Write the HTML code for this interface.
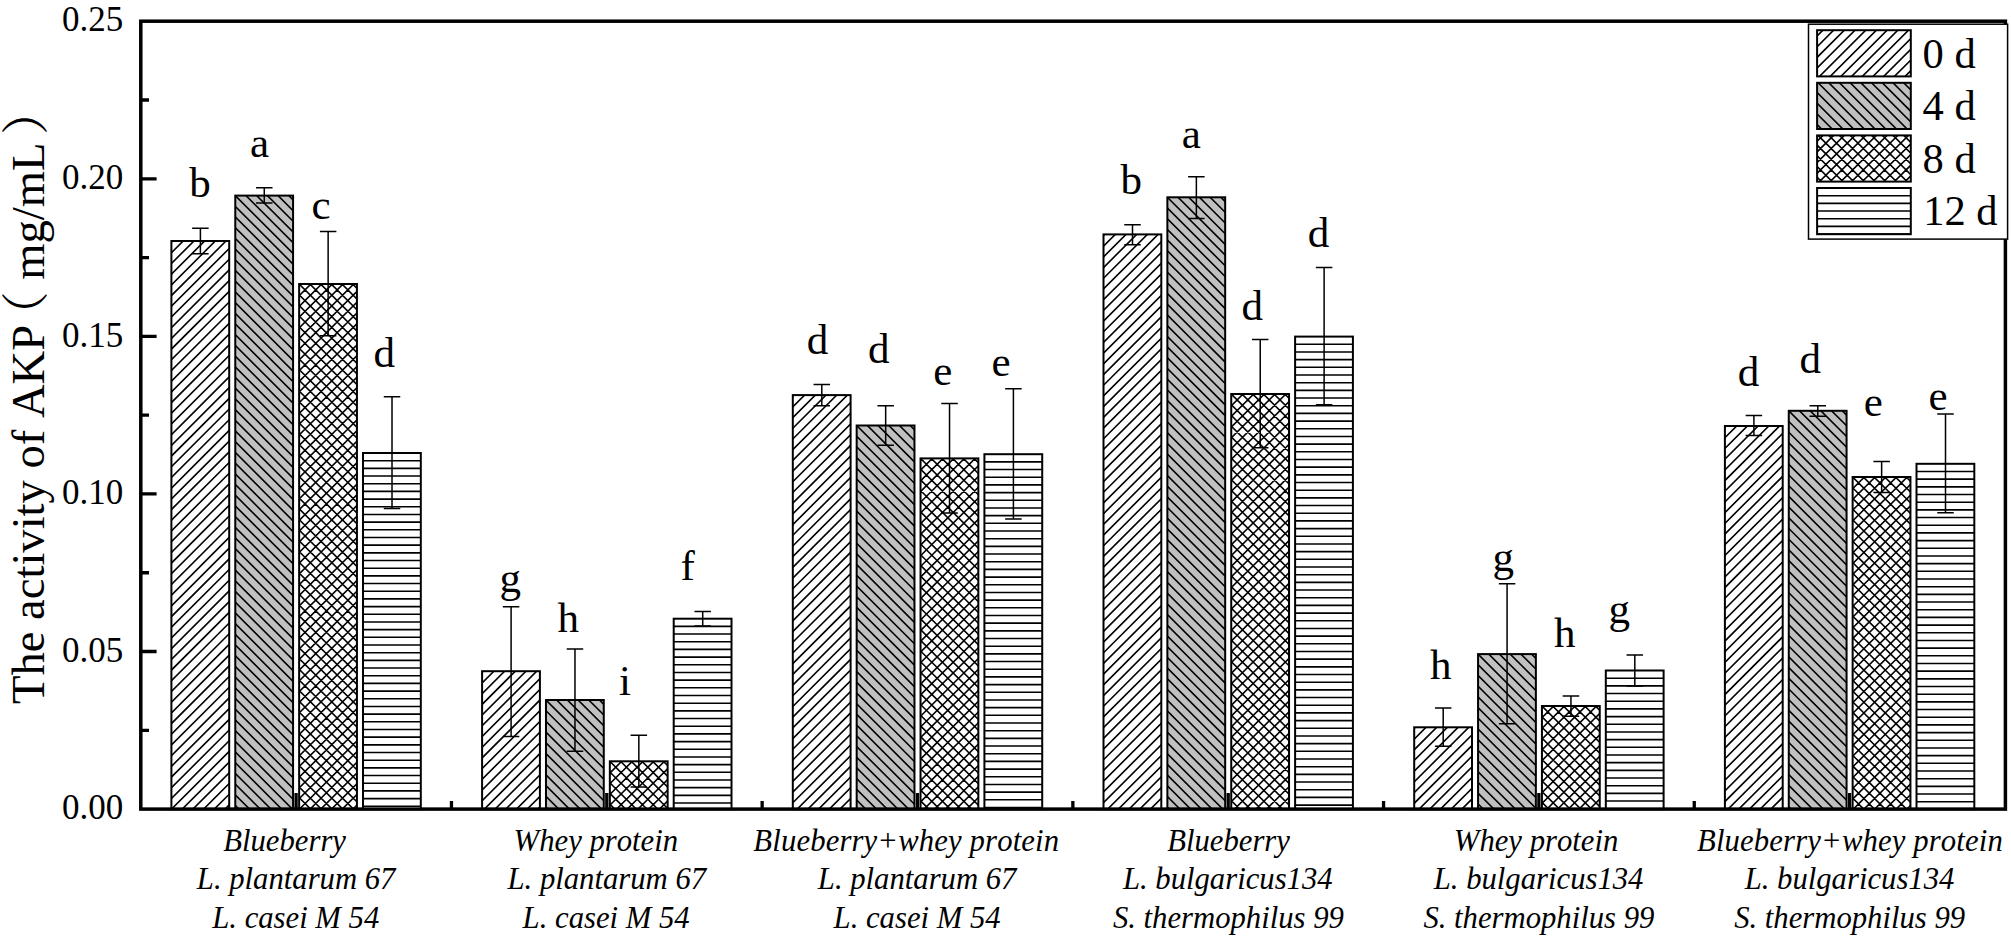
<!DOCTYPE html>
<html lang="en"><head><meta charset="utf-8"><title>The activity of AKP</title>
<style>html,body{margin:0;padding:0;background:#fff}body{width:2011px;height:937px;overflow:hidden}svg{display:block}
text{font-family:"Liberation Serif","Noto Serif CJK SC",serif;fill:#000;font-kerning:none}
.xl{font-style:italic;font-size:30.7px}.lt{font-size:43px;text-anchor:middle}.tk{font-size:35px;text-anchor:end}.lg{font-size:42.5px}.yt{font-size:46.6px}
.h{stroke:#000;stroke-width:1.6;fill:none}.b{stroke:#000;stroke-width:2.0;fill:none}.e{stroke:#000;stroke-width:1.5;fill:none}.t{stroke:#000;stroke-width:3.3;fill:none}
</style></head><body>
<svg width="2011" height="937" viewBox="0 0 2011 937">
<rect width="2011" height="937" fill="#fff"/>
<path class="t" d="M140.8 730.31h8.2M140.8 651.52h15.8M140.8 572.73h8.2M140.8 493.94h15.8M140.8 415.15h8.2M140.8 336.36h15.8M140.8 257.57h8.2M140.8 178.78h15.8M140.8 99.99h8.2M296.1 809.1v-16M451.45 809.1v-8M606.8 809.1v-16M762.15 809.1v-8M917.5 809.1v-16M1072.85 809.1v-8M1228.2 809.1v-16M1383.55 809.1v-8M1538.9 809.1v-16M1694.25 809.1v-8M1849.6 809.1v-16"/>
<defs><clipPath id="c1"><rect x="171.4" y="241" width="57.8" height="568.1"/></clipPath><clipPath id="c2"><rect x="235.27" y="195.6" width="57.8" height="613.5"/></clipPath><clipPath id="c3"><rect x="299.14" y="284" width="57.8" height="525.1"/></clipPath><clipPath id="c4"><rect x="363.01" y="453" width="57.8" height="356.1"/></clipPath><clipPath id="c5"><rect x="482.1" y="671.2" width="57.8" height="137.9"/></clipPath><clipPath id="c6"><rect x="545.97" y="700" width="57.8" height="109.1"/></clipPath><clipPath id="c7"><rect x="609.84" y="761.3" width="57.8" height="47.8"/></clipPath><clipPath id="c8"><rect x="673.71" y="618.7" width="57.8" height="190.4"/></clipPath><clipPath id="c9"><rect x="792.8" y="395.1" width="57.8" height="414"/></clipPath><clipPath id="c10"><rect x="856.67" y="425.5" width="57.8" height="383.6"/></clipPath><clipPath id="c11"><rect x="920.54" y="458.4" width="57.8" height="350.7"/></clipPath><clipPath id="c12"><rect x="984.41" y="454.2" width="57.8" height="354.9"/></clipPath><clipPath id="c13"><rect x="1103.5" y="234.4" width="57.8" height="574.7"/></clipPath><clipPath id="c14"><rect x="1167.37" y="197.3" width="57.8" height="611.8"/></clipPath><clipPath id="c15"><rect x="1231.24" y="394" width="57.8" height="415.1"/></clipPath><clipPath id="c16"><rect x="1295.11" y="336.6" width="57.8" height="472.5"/></clipPath><clipPath id="c17"><rect x="1414.2" y="727.3" width="57.8" height="81.8"/></clipPath><clipPath id="c18"><rect x="1478.07" y="654.1" width="57.8" height="155"/></clipPath><clipPath id="c19"><rect x="1541.94" y="706" width="57.8" height="103.1"/></clipPath><clipPath id="c20"><rect x="1605.81" y="670.5" width="57.8" height="138.6"/></clipPath><clipPath id="c21"><rect x="1724.9" y="426" width="57.8" height="383.1"/></clipPath><clipPath id="c22"><rect x="1788.77" y="410.8" width="57.8" height="398.3"/></clipPath><clipPath id="c23"><rect x="1852.64" y="477" width="57.8" height="332.1"/></clipPath><clipPath id="c24"><rect x="1916.51" y="463.8" width="57.8" height="345.3"/></clipPath><clipPath id="l0"><rect x="1817.1" y="30.2" width="93.7" height="46.2"/></clipPath><clipPath id="l1"><rect x="1817.1" y="82.8" width="93.7" height="46.2"/></clipPath><clipPath id="l2"><rect x="1817.1" y="135.4" width="93.7" height="46.2"/></clipPath><clipPath id="l3"><rect x="1817.1" y="188" width="93.7" height="46.2"/></clipPath></defs>
<rect x="171.4" y="241" width="57.8" height="568.1" fill="#fff"/>
<path class="h" clip-path="url(#c1)" d="M170.4 243.1L230.2 183.3M170.4 253.8L230.2 194M170.4 264.5L230.2 204.7M170.4 275.2L230.2 215.4M170.4 285.9L230.2 226.1M170.4 296.6L230.2 236.8M170.4 307.3L230.2 247.5M170.4 318L230.2 258.2M170.4 328.7L230.2 268.9M170.4 339.4L230.2 279.6M170.4 350.1L230.2 290.3M170.4 360.8L230.2 301M170.4 371.5L230.2 311.7M170.4 382.2L230.2 322.4M170.4 392.9L230.2 333.1M170.4 403.6L230.2 343.8M170.4 414.3L230.2 354.5M170.4 425L230.2 365.2M170.4 435.7L230.2 375.9M170.4 446.4L230.2 386.6M170.4 457.1L230.2 397.3M170.4 467.8L230.2 408M170.4 478.5L230.2 418.7M170.4 489.2L230.2 429.4M170.4 499.9L230.2 440.1M170.4 510.6L230.2 450.8M170.4 521.3L230.2 461.5M170.4 532L230.2 472.2M170.4 542.7L230.2 482.9M170.4 553.4L230.2 493.6M170.4 564.1L230.2 504.3M170.4 574.8L230.2 515M170.4 585.5L230.2 525.7M170.4 596.2L230.2 536.4M170.4 606.9L230.2 547.1M170.4 617.6L230.2 557.8M170.4 628.3L230.2 568.5M170.4 639L230.2 579.2M170.4 649.7L230.2 589.9M170.4 660.4L230.2 600.6M170.4 671.1L230.2 611.3M170.4 681.8L230.2 622M170.4 692.5L230.2 632.7M170.4 703.2L230.2 643.4M170.4 713.9L230.2 654.1M170.4 724.6L230.2 664.8M170.4 735.3L230.2 675.5M170.4 746L230.2 686.2M170.4 756.7L230.2 696.9M170.4 767.4L230.2 707.6M170.4 778.1L230.2 718.3M170.4 788.8L230.2 729M170.4 799.5L230.2 739.7M170.4 810.2L230.2 750.4M170.4 820.9L230.2 761.1M170.4 831.6L230.2 771.8M170.4 842.3L230.2 782.5M170.4 853L230.2 793.2M170.4 863.7L230.2 803.9"/>
<rect class="b" x="171.4" y="241" width="57.8" height="568.1"/>
<rect x="235.27" y="195.6" width="57.8" height="613.5" fill="#c0c0c0"/>
<path class="h" clip-path="url(#c2)" d="M234.27 804.5L294.07 864.3M234.27 793.8L294.07 853.6M234.27 783.1L294.07 842.9M234.27 772.4L294.07 832.2M234.27 761.7L294.07 821.5M234.27 751L294.07 810.8M234.27 740.3L294.07 800.1M234.27 729.6L294.07 789.4M234.27 718.9L294.07 778.7M234.27 708.2L294.07 768M234.27 697.5L294.07 757.3M234.27 686.8L294.07 746.6M234.27 676.1L294.07 735.9M234.27 665.4L294.07 725.2M234.27 654.7L294.07 714.5M234.27 644L294.07 703.8M234.27 633.3L294.07 693.1M234.27 622.6L294.07 682.4M234.27 611.9L294.07 671.7M234.27 601.2L294.07 661M234.27 590.5L294.07 650.3M234.27 579.8L294.07 639.6M234.27 569.1L294.07 628.9M234.27 558.4L294.07 618.2M234.27 547.7L294.07 607.5M234.27 537L294.07 596.8M234.27 526.3L294.07 586.1M234.27 515.6L294.07 575.4M234.27 504.9L294.07 564.7M234.27 494.2L294.07 554M234.27 483.5L294.07 543.3M234.27 472.8L294.07 532.6M234.27 462.1L294.07 521.9M234.27 451.4L294.07 511.2M234.27 440.7L294.07 500.5M234.27 430L294.07 489.8M234.27 419.3L294.07 479.1M234.27 408.6L294.07 468.4M234.27 397.9L294.07 457.7M234.27 387.2L294.07 447M234.27 376.5L294.07 436.3M234.27 365.8L294.07 425.6M234.27 355.1L294.07 414.9M234.27 344.4L294.07 404.2M234.27 333.7L294.07 393.5M234.27 323L294.07 382.8M234.27 312.3L294.07 372.1M234.27 301.6L294.07 361.4M234.27 290.9L294.07 350.7M234.27 280.2L294.07 340M234.27 269.5L294.07 329.3M234.27 258.8L294.07 318.6M234.27 248.1L294.07 307.9M234.27 237.4L294.07 297.2M234.27 226.7L294.07 286.5M234.27 216L294.07 275.8M234.27 205.3L294.07 265.1M234.27 194.6L294.07 254.4M234.27 183.9L294.07 243.7M234.27 173.2L294.07 233M234.27 162.5L294.07 222.3M234.27 151.8L294.07 211.6M234.27 141.1L294.07 200.9"/>
<rect class="b" x="235.27" y="195.6" width="57.8" height="613.5"/>
<rect x="299.14" y="284" width="57.8" height="525.1" fill="#fff"/>
<path class="h" clip-path="url(#c3)" d="M298.14 286.1L357.94 226.3M298.14 296.8L357.94 237M298.14 307.5L357.94 247.7M298.14 318.2L357.94 258.4M298.14 328.9L357.94 269.1M298.14 339.6L357.94 279.8M298.14 350.3L357.94 290.5M298.14 361L357.94 301.2M298.14 371.7L357.94 311.9M298.14 382.4L357.94 322.6M298.14 393.1L357.94 333.3M298.14 403.8L357.94 344M298.14 414.5L357.94 354.7M298.14 425.2L357.94 365.4M298.14 435.9L357.94 376.1M298.14 446.6L357.94 386.8M298.14 457.3L357.94 397.5M298.14 468L357.94 408.2M298.14 478.7L357.94 418.9M298.14 489.4L357.94 429.6M298.14 500.1L357.94 440.3M298.14 510.8L357.94 451M298.14 521.5L357.94 461.7M298.14 532.2L357.94 472.4M298.14 542.9L357.94 483.1M298.14 553.6L357.94 493.8M298.14 564.3L357.94 504.5M298.14 575L357.94 515.2M298.14 585.7L357.94 525.9M298.14 596.4L357.94 536.6M298.14 607.1L357.94 547.3M298.14 617.8L357.94 558M298.14 628.5L357.94 568.7M298.14 639.2L357.94 579.4M298.14 649.9L357.94 590.1M298.14 660.6L357.94 600.8M298.14 671.3L357.94 611.5M298.14 682L357.94 622.2M298.14 692.7L357.94 632.9M298.14 703.4L357.94 643.6M298.14 714.1L357.94 654.3M298.14 724.8L357.94 665M298.14 735.5L357.94 675.7M298.14 746.2L357.94 686.4M298.14 756.9L357.94 697.1M298.14 767.6L357.94 707.8M298.14 778.3L357.94 718.5M298.14 789L357.94 729.2M298.14 799.7L357.94 739.9M298.14 810.4L357.94 750.6M298.14 821.1L357.94 761.3M298.14 831.8L357.94 772M298.14 842.5L357.94 782.7M298.14 853.2L357.94 793.4M298.14 863.9L357.94 804.1M298.14 807.3L357.94 867.1M298.14 796.6L357.94 856.4M298.14 785.9L357.94 845.7M298.14 775.2L357.94 835M298.14 764.5L357.94 824.3M298.14 753.8L357.94 813.6M298.14 743.1L357.94 802.9M298.14 732.4L357.94 792.2M298.14 721.7L357.94 781.5M298.14 711L357.94 770.8M298.14 700.3L357.94 760.1M298.14 689.6L357.94 749.4M298.14 678.9L357.94 738.7M298.14 668.2L357.94 728M298.14 657.5L357.94 717.3M298.14 646.8L357.94 706.6M298.14 636.1L357.94 695.9M298.14 625.4L357.94 685.2M298.14 614.7L357.94 674.5M298.14 604L357.94 663.8M298.14 593.3L357.94 653.1M298.14 582.6L357.94 642.4M298.14 571.9L357.94 631.7M298.14 561.2L357.94 621M298.14 550.5L357.94 610.3M298.14 539.8L357.94 599.6M298.14 529.1L357.94 588.9M298.14 518.4L357.94 578.2M298.14 507.7L357.94 567.5M298.14 497L357.94 556.8M298.14 486.3L357.94 546.1M298.14 475.6L357.94 535.4M298.14 464.9L357.94 524.7M298.14 454.2L357.94 514M298.14 443.5L357.94 503.3M298.14 432.8L357.94 492.6M298.14 422.1L357.94 481.9M298.14 411.4L357.94 471.2M298.14 400.7L357.94 460.5M298.14 390L357.94 449.8M298.14 379.3L357.94 439.1M298.14 368.6L357.94 428.4M298.14 357.9L357.94 417.7M298.14 347.2L357.94 407M298.14 336.5L357.94 396.3M298.14 325.8L357.94 385.6M298.14 315.1L357.94 374.9M298.14 304.4L357.94 364.2M298.14 293.7L357.94 353.5M298.14 283L357.94 342.8M298.14 272.3L357.94 332.1M298.14 261.6L357.94 321.4M298.14 250.9L357.94 310.7M298.14 240.2L357.94 300M298.14 229.5L357.94 289.3"/>
<rect class="b" x="299.14" y="284" width="57.8" height="525.1"/>
<rect x="363.01" y="453" width="57.8" height="356.1" fill="#fff"/>
<path class="h" clip-path="url(#c4)" d="M363.01 460.68H420.81M363.01 468.36H420.81M363.01 476.04H420.81M363.01 483.72H420.81M363.01 491.4H420.81M363.01 499.08H420.81M363.01 506.76H420.81M363.01 514.44H420.81M363.01 522.12H420.81M363.01 529.8H420.81M363.01 537.48H420.81M363.01 545.16H420.81M363.01 552.84H420.81M363.01 560.52H420.81M363.01 568.2H420.81M363.01 575.88H420.81M363.01 583.56H420.81M363.01 591.24H420.81M363.01 598.92H420.81M363.01 606.6H420.81M363.01 614.28H420.81M363.01 621.96H420.81M363.01 629.64H420.81M363.01 637.32H420.81M363.01 645H420.81M363.01 652.68H420.81M363.01 660.36H420.81M363.01 668.04H420.81M363.01 675.72H420.81M363.01 683.4H420.81M363.01 691.08H420.81M363.01 698.76H420.81M363.01 706.44H420.81M363.01 714.12H420.81M363.01 721.8H420.81M363.01 729.48H420.81M363.01 737.16H420.81M363.01 744.84H420.81M363.01 752.52H420.81M363.01 760.2H420.81M363.01 767.88H420.81M363.01 775.56H420.81M363.01 783.24H420.81M363.01 790.92H420.81M363.01 798.6H420.81M363.01 806.28H420.81"/>
<rect class="b" x="363.01" y="453" width="57.8" height="356.1"/>
<rect x="482.1" y="671.2" width="57.8" height="137.9" fill="#fff"/>
<path class="h" clip-path="url(#c5)" d="M481.1 673.3L540.9 613.5M481.1 684L540.9 624.2M481.1 694.7L540.9 634.9M481.1 705.4L540.9 645.6M481.1 716.1L540.9 656.3M481.1 726.8L540.9 667M481.1 737.5L540.9 677.7M481.1 748.2L540.9 688.4M481.1 758.9L540.9 699.1M481.1 769.6L540.9 709.8M481.1 780.3L540.9 720.5M481.1 791L540.9 731.2M481.1 801.7L540.9 741.9M481.1 812.4L540.9 752.6M481.1 823.1L540.9 763.3M481.1 833.8L540.9 774M481.1 844.5L540.9 784.7M481.1 855.2L540.9 795.4M481.1 865.9L540.9 806.1"/>
<rect class="b" x="482.1" y="671.2" width="57.8" height="137.9"/>
<rect x="545.97" y="700" width="57.8" height="109.1" fill="#c0c0c0"/>
<path class="h" clip-path="url(#c6)" d="M544.97 806L604.77 865.8M544.97 795.3L604.77 855.1M544.97 784.6L604.77 844.4M544.97 773.9L604.77 833.7M544.97 763.2L604.77 823M544.97 752.5L604.77 812.3M544.97 741.8L604.77 801.6M544.97 731.1L604.77 790.9M544.97 720.4L604.77 780.2M544.97 709.7L604.77 769.5M544.97 699L604.77 758.8M544.97 688.3L604.77 748.1M544.97 677.6L604.77 737.4M544.97 666.9L604.77 726.7M544.97 656.2L604.77 716M544.97 645.5L604.77 705.3"/>
<rect class="b" x="545.97" y="700" width="57.8" height="109.1"/>
<rect x="609.84" y="761.3" width="57.8" height="47.8" fill="#fff"/>
<path class="h" clip-path="url(#c7)" d="M608.84 763.4L668.64 703.6M608.84 774.1L668.64 714.3M608.84 784.8L668.64 725M608.84 795.5L668.64 735.7M608.84 806.2L668.64 746.4M608.84 816.9L668.64 757.1M608.84 827.6L668.64 767.8M608.84 838.3L668.64 778.5M608.84 849L668.64 789.2M608.84 859.7L668.64 799.9M608.84 803.1L668.64 862.9M608.84 792.4L668.64 852.2M608.84 781.7L668.64 841.5M608.84 771L668.64 830.8M608.84 760.3L668.64 820.1M608.84 749.6L668.64 809.4M608.84 738.9L668.64 798.7M608.84 728.2L668.64 788M608.84 717.5L668.64 777.3M608.84 706.8L668.64 766.6"/>
<rect class="b" x="609.84" y="761.3" width="57.8" height="47.8"/>
<rect x="673.71" y="618.7" width="57.8" height="190.4" fill="#fff"/>
<path class="h" clip-path="url(#c8)" d="M673.71 626.38H731.51M673.71 634.06H731.51M673.71 641.74H731.51M673.71 649.42H731.51M673.71 657.1H731.51M673.71 664.78H731.51M673.71 672.46H731.51M673.71 680.14H731.51M673.71 687.82H731.51M673.71 695.5H731.51M673.71 703.18H731.51M673.71 710.86H731.51M673.71 718.54H731.51M673.71 726.22H731.51M673.71 733.9H731.51M673.71 741.58H731.51M673.71 749.26H731.51M673.71 756.94H731.51M673.71 764.62H731.51M673.71 772.3H731.51M673.71 779.98H731.51M673.71 787.66H731.51M673.71 795.34H731.51M673.71 803.02H731.51"/>
<rect class="b" x="673.71" y="618.7" width="57.8" height="190.4"/>
<rect x="792.8" y="395.1" width="57.8" height="414" fill="#fff"/>
<path class="h" clip-path="url(#c9)" d="M791.8 397.2L851.6 337.4M791.8 407.9L851.6 348.1M791.8 418.6L851.6 358.8M791.8 429.3L851.6 369.5M791.8 440L851.6 380.2M791.8 450.7L851.6 390.9M791.8 461.4L851.6 401.6M791.8 472.1L851.6 412.3M791.8 482.8L851.6 423M791.8 493.5L851.6 433.7M791.8 504.2L851.6 444.4M791.8 514.9L851.6 455.1M791.8 525.6L851.6 465.8M791.8 536.3L851.6 476.5M791.8 547L851.6 487.2M791.8 557.7L851.6 497.9M791.8 568.4L851.6 508.6M791.8 579.1L851.6 519.3M791.8 589.8L851.6 530M791.8 600.5L851.6 540.7M791.8 611.2L851.6 551.4M791.8 621.9L851.6 562.1M791.8 632.6L851.6 572.8M791.8 643.3L851.6 583.5M791.8 654L851.6 594.2M791.8 664.7L851.6 604.9M791.8 675.4L851.6 615.6M791.8 686.1L851.6 626.3M791.8 696.8L851.6 637M791.8 707.5L851.6 647.7M791.8 718.2L851.6 658.4M791.8 728.9L851.6 669.1M791.8 739.6L851.6 679.8M791.8 750.3L851.6 690.5M791.8 761L851.6 701.2M791.8 771.7L851.6 711.9M791.8 782.4L851.6 722.6M791.8 793.1L851.6 733.3M791.8 803.8L851.6 744M791.8 814.5L851.6 754.7M791.8 825.2L851.6 765.4M791.8 835.9L851.6 776.1M791.8 846.6L851.6 786.8M791.8 857.3L851.6 797.5"/>
<rect class="b" x="792.8" y="395.1" width="57.8" height="414"/>
<rect x="856.67" y="425.5" width="57.8" height="383.6" fill="#c0c0c0"/>
<path class="h" clip-path="url(#c10)" d="M855.67 799L915.47 858.8M855.67 788.3L915.47 848.1M855.67 777.6L915.47 837.4M855.67 766.9L915.47 826.7M855.67 756.2L915.47 816M855.67 745.5L915.47 805.3M855.67 734.8L915.47 794.6M855.67 724.1L915.47 783.9M855.67 713.4L915.47 773.2M855.67 702.7L915.47 762.5M855.67 692L915.47 751.8M855.67 681.3L915.47 741.1M855.67 670.6L915.47 730.4M855.67 659.9L915.47 719.7M855.67 649.2L915.47 709M855.67 638.5L915.47 698.3M855.67 627.8L915.47 687.6M855.67 617.1L915.47 676.9M855.67 606.4L915.47 666.2M855.67 595.7L915.47 655.5M855.67 585L915.47 644.8M855.67 574.3L915.47 634.1M855.67 563.6L915.47 623.4M855.67 552.9L915.47 612.7M855.67 542.2L915.47 602M855.67 531.5L915.47 591.3M855.67 520.8L915.47 580.6M855.67 510.1L915.47 569.9M855.67 499.4L915.47 559.2M855.67 488.7L915.47 548.5M855.67 478L915.47 537.8M855.67 467.3L915.47 527.1M855.67 456.6L915.47 516.4M855.67 445.9L915.47 505.7M855.67 435.2L915.47 495M855.67 424.5L915.47 484.3M855.67 413.8L915.47 473.6M855.67 403.1L915.47 462.9M855.67 392.4L915.47 452.2M855.67 381.7L915.47 441.5M855.67 371L915.47 430.8"/>
<rect class="b" x="856.67" y="425.5" width="57.8" height="383.6"/>
<rect x="920.54" y="458.4" width="57.8" height="350.7" fill="#fff"/>
<path class="h" clip-path="url(#c11)" d="M919.54 460.5L979.34 400.7M919.54 471.2L979.34 411.4M919.54 481.9L979.34 422.1M919.54 492.6L979.34 432.8M919.54 503.3L979.34 443.5M919.54 514L979.34 454.2M919.54 524.7L979.34 464.9M919.54 535.4L979.34 475.6M919.54 546.1L979.34 486.3M919.54 556.8L979.34 497M919.54 567.5L979.34 507.7M919.54 578.2L979.34 518.4M919.54 588.9L979.34 529.1M919.54 599.6L979.34 539.8M919.54 610.3L979.34 550.5M919.54 621L979.34 561.2M919.54 631.7L979.34 571.9M919.54 642.4L979.34 582.6M919.54 653.1L979.34 593.3M919.54 663.8L979.34 604M919.54 674.5L979.34 614.7M919.54 685.2L979.34 625.4M919.54 695.9L979.34 636.1M919.54 706.6L979.34 646.8M919.54 717.3L979.34 657.5M919.54 728L979.34 668.2M919.54 738.7L979.34 678.9M919.54 749.4L979.34 689.6M919.54 760.1L979.34 700.3M919.54 770.8L979.34 711M919.54 781.5L979.34 721.7M919.54 792.2L979.34 732.4M919.54 802.9L979.34 743.1M919.54 813.6L979.34 753.8M919.54 824.3L979.34 764.5M919.54 835L979.34 775.2M919.54 845.7L979.34 785.9M919.54 856.4L979.34 796.6M919.54 867.1L979.34 807.3M919.54 799.8L979.34 859.6M919.54 789.1L979.34 848.9M919.54 778.4L979.34 838.2M919.54 767.7L979.34 827.5M919.54 757L979.34 816.8M919.54 746.3L979.34 806.1M919.54 735.6L979.34 795.4M919.54 724.9L979.34 784.7M919.54 714.2L979.34 774M919.54 703.5L979.34 763.3M919.54 692.8L979.34 752.6M919.54 682.1L979.34 741.9M919.54 671.4L979.34 731.2M919.54 660.7L979.34 720.5M919.54 650L979.34 709.8M919.54 639.3L979.34 699.1M919.54 628.6L979.34 688.4M919.54 617.9L979.34 677.7M919.54 607.2L979.34 667M919.54 596.5L979.34 656.3M919.54 585.8L979.34 645.6M919.54 575.1L979.34 634.9M919.54 564.4L979.34 624.2M919.54 553.7L979.34 613.5M919.54 543L979.34 602.8M919.54 532.3L979.34 592.1M919.54 521.6L979.34 581.4M919.54 510.9L979.34 570.7M919.54 500.2L979.34 560M919.54 489.5L979.34 549.3M919.54 478.8L979.34 538.6M919.54 468.1L979.34 527.9M919.54 457.4L979.34 517.2M919.54 446.7L979.34 506.5M919.54 436L979.34 495.8M919.54 425.3L979.34 485.1M919.54 414.6L979.34 474.4M919.54 403.9L979.34 463.7"/>
<rect class="b" x="920.54" y="458.4" width="57.8" height="350.7"/>
<rect x="984.41" y="454.2" width="57.8" height="354.9" fill="#fff"/>
<path class="h" clip-path="url(#c12)" d="M984.41 461.88H1042.21M984.41 469.56H1042.21M984.41 477.24H1042.21M984.41 484.92H1042.21M984.41 492.6H1042.21M984.41 500.28H1042.21M984.41 507.96H1042.21M984.41 515.64H1042.21M984.41 523.32H1042.21M984.41 531H1042.21M984.41 538.68H1042.21M984.41 546.36H1042.21M984.41 554.04H1042.21M984.41 561.72H1042.21M984.41 569.4H1042.21M984.41 577.08H1042.21M984.41 584.76H1042.21M984.41 592.44H1042.21M984.41 600.12H1042.21M984.41 607.8H1042.21M984.41 615.48H1042.21M984.41 623.16H1042.21M984.41 630.84H1042.21M984.41 638.52H1042.21M984.41 646.2H1042.21M984.41 653.88H1042.21M984.41 661.56H1042.21M984.41 669.24H1042.21M984.41 676.92H1042.21M984.41 684.6H1042.21M984.41 692.28H1042.21M984.41 699.96H1042.21M984.41 707.64H1042.21M984.41 715.32H1042.21M984.41 723H1042.21M984.41 730.68H1042.21M984.41 738.36H1042.21M984.41 746.04H1042.21M984.41 753.72H1042.21M984.41 761.4H1042.21M984.41 769.08H1042.21M984.41 776.76H1042.21M984.41 784.44H1042.21M984.41 792.12H1042.21M984.41 799.8H1042.21M984.41 807.48H1042.21"/>
<rect class="b" x="984.41" y="454.2" width="57.8" height="354.9"/>
<rect x="1103.5" y="234.4" width="57.8" height="574.7" fill="#fff"/>
<path class="h" clip-path="url(#c13)" d="M1102.5 236.5L1162.3 176.7M1102.5 247.2L1162.3 187.4M1102.5 257.9L1162.3 198.1M1102.5 268.6L1162.3 208.8M1102.5 279.3L1162.3 219.5M1102.5 290L1162.3 230.2M1102.5 300.7L1162.3 240.9M1102.5 311.4L1162.3 251.6M1102.5 322.1L1162.3 262.3M1102.5 332.8L1162.3 273M1102.5 343.5L1162.3 283.7M1102.5 354.2L1162.3 294.4M1102.5 364.9L1162.3 305.1M1102.5 375.6L1162.3 315.8M1102.5 386.3L1162.3 326.5M1102.5 397L1162.3 337.2M1102.5 407.7L1162.3 347.9M1102.5 418.4L1162.3 358.6M1102.5 429.1L1162.3 369.3M1102.5 439.8L1162.3 380M1102.5 450.5L1162.3 390.7M1102.5 461.2L1162.3 401.4M1102.5 471.9L1162.3 412.1M1102.5 482.6L1162.3 422.8M1102.5 493.3L1162.3 433.5M1102.5 504L1162.3 444.2M1102.5 514.7L1162.3 454.9M1102.5 525.4L1162.3 465.6M1102.5 536.1L1162.3 476.3M1102.5 546.8L1162.3 487M1102.5 557.5L1162.3 497.7M1102.5 568.2L1162.3 508.4M1102.5 578.9L1162.3 519.1M1102.5 589.6L1162.3 529.8M1102.5 600.3L1162.3 540.5M1102.5 611L1162.3 551.2M1102.5 621.7L1162.3 561.9M1102.5 632.4L1162.3 572.6M1102.5 643.1L1162.3 583.3M1102.5 653.8L1162.3 594M1102.5 664.5L1162.3 604.7M1102.5 675.2L1162.3 615.4M1102.5 685.9L1162.3 626.1M1102.5 696.6L1162.3 636.8M1102.5 707.3L1162.3 647.5M1102.5 718L1162.3 658.2M1102.5 728.7L1162.3 668.9M1102.5 739.4L1162.3 679.6M1102.5 750.1L1162.3 690.3M1102.5 760.8L1162.3 701M1102.5 771.5L1162.3 711.7M1102.5 782.2L1162.3 722.4M1102.5 792.9L1162.3 733.1M1102.5 803.6L1162.3 743.8M1102.5 814.3L1162.3 754.5M1102.5 825L1162.3 765.2M1102.5 835.7L1162.3 775.9M1102.5 846.4L1162.3 786.6M1102.5 857.1L1162.3 797.3M1102.5 867.8L1162.3 808"/>
<rect class="b" x="1103.5" y="234.4" width="57.8" height="574.7"/>
<rect x="1167.37" y="197.3" width="57.8" height="611.8" fill="#c0c0c0"/>
<path class="h" clip-path="url(#c14)" d="M1166.37 806.2L1226.17 866M1166.37 795.5L1226.17 855.3M1166.37 784.8L1226.17 844.6M1166.37 774.1L1226.17 833.9M1166.37 763.4L1226.17 823.2M1166.37 752.7L1226.17 812.5M1166.37 742L1226.17 801.8M1166.37 731.3L1226.17 791.1M1166.37 720.6L1226.17 780.4M1166.37 709.9L1226.17 769.7M1166.37 699.2L1226.17 759M1166.37 688.5L1226.17 748.3M1166.37 677.8L1226.17 737.6M1166.37 667.1L1226.17 726.9M1166.37 656.4L1226.17 716.2M1166.37 645.7L1226.17 705.5M1166.37 635L1226.17 694.8M1166.37 624.3L1226.17 684.1M1166.37 613.6L1226.17 673.4M1166.37 602.9L1226.17 662.7M1166.37 592.2L1226.17 652M1166.37 581.5L1226.17 641.3M1166.37 570.8L1226.17 630.6M1166.37 560.1L1226.17 619.9M1166.37 549.4L1226.17 609.2M1166.37 538.7L1226.17 598.5M1166.37 528L1226.17 587.8M1166.37 517.3L1226.17 577.1M1166.37 506.6L1226.17 566.4M1166.37 495.9L1226.17 555.7M1166.37 485.2L1226.17 545M1166.37 474.5L1226.17 534.3M1166.37 463.8L1226.17 523.6M1166.37 453.1L1226.17 512.9M1166.37 442.4L1226.17 502.2M1166.37 431.7L1226.17 491.5M1166.37 421L1226.17 480.8M1166.37 410.3L1226.17 470.1M1166.37 399.6L1226.17 459.4M1166.37 388.9L1226.17 448.7M1166.37 378.2L1226.17 438M1166.37 367.5L1226.17 427.3M1166.37 356.8L1226.17 416.6M1166.37 346.1L1226.17 405.9M1166.37 335.4L1226.17 395.2M1166.37 324.7L1226.17 384.5M1166.37 314L1226.17 373.8M1166.37 303.3L1226.17 363.1M1166.37 292.6L1226.17 352.4M1166.37 281.9L1226.17 341.7M1166.37 271.2L1226.17 331M1166.37 260.5L1226.17 320.3M1166.37 249.8L1226.17 309.6M1166.37 239.1L1226.17 298.9M1166.37 228.4L1226.17 288.2M1166.37 217.7L1226.17 277.5M1166.37 207L1226.17 266.8M1166.37 196.3L1226.17 256.1M1166.37 185.6L1226.17 245.4M1166.37 174.9L1226.17 234.7M1166.37 164.2L1226.17 224M1166.37 153.5L1226.17 213.3M1166.37 142.8L1226.17 202.6"/>
<rect class="b" x="1167.37" y="197.3" width="57.8" height="611.8"/>
<rect x="1231.24" y="394" width="57.8" height="415.1" fill="#fff"/>
<path class="h" clip-path="url(#c15)" d="M1230.24 396.1L1290.04 336.3M1230.24 406.8L1290.04 347M1230.24 417.5L1290.04 357.7M1230.24 428.2L1290.04 368.4M1230.24 438.9L1290.04 379.1M1230.24 449.6L1290.04 389.8M1230.24 460.3L1290.04 400.5M1230.24 471L1290.04 411.2M1230.24 481.7L1290.04 421.9M1230.24 492.4L1290.04 432.6M1230.24 503.1L1290.04 443.3M1230.24 513.8L1290.04 454M1230.24 524.5L1290.04 464.7M1230.24 535.2L1290.04 475.4M1230.24 545.9L1290.04 486.1M1230.24 556.6L1290.04 496.8M1230.24 567.3L1290.04 507.5M1230.24 578L1290.04 518.2M1230.24 588.7L1290.04 528.9M1230.24 599.4L1290.04 539.6M1230.24 610.1L1290.04 550.3M1230.24 620.8L1290.04 561M1230.24 631.5L1290.04 571.7M1230.24 642.2L1290.04 582.4M1230.24 652.9L1290.04 593.1M1230.24 663.6L1290.04 603.8M1230.24 674.3L1290.04 614.5M1230.24 685L1290.04 625.2M1230.24 695.7L1290.04 635.9M1230.24 706.4L1290.04 646.6M1230.24 717.1L1290.04 657.3M1230.24 727.8L1290.04 668M1230.24 738.5L1290.04 678.7M1230.24 749.2L1290.04 689.4M1230.24 759.9L1290.04 700.1M1230.24 770.6L1290.04 710.8M1230.24 781.3L1290.04 721.5M1230.24 792L1290.04 732.2M1230.24 802.7L1290.04 742.9M1230.24 813.4L1290.04 753.6M1230.24 824.1L1290.04 764.3M1230.24 834.8L1290.04 775M1230.24 845.5L1290.04 785.7M1230.24 856.2L1290.04 796.4M1230.24 866.9L1290.04 807.1M1230.24 799.6L1290.04 859.4M1230.24 788.9L1290.04 848.7M1230.24 778.2L1290.04 838M1230.24 767.5L1290.04 827.3M1230.24 756.8L1290.04 816.6M1230.24 746.1L1290.04 805.9M1230.24 735.4L1290.04 795.2M1230.24 724.7L1290.04 784.5M1230.24 714L1290.04 773.8M1230.24 703.3L1290.04 763.1M1230.24 692.6L1290.04 752.4M1230.24 681.9L1290.04 741.7M1230.24 671.2L1290.04 731M1230.24 660.5L1290.04 720.3M1230.24 649.8L1290.04 709.6M1230.24 639.1L1290.04 698.9M1230.24 628.4L1290.04 688.2M1230.24 617.7L1290.04 677.5M1230.24 607L1290.04 666.8M1230.24 596.3L1290.04 656.1M1230.24 585.6L1290.04 645.4M1230.24 574.9L1290.04 634.7M1230.24 564.2L1290.04 624M1230.24 553.5L1290.04 613.3M1230.24 542.8L1290.04 602.6M1230.24 532.1L1290.04 591.9M1230.24 521.4L1290.04 581.2M1230.24 510.7L1290.04 570.5M1230.24 500L1290.04 559.8M1230.24 489.3L1290.04 549.1M1230.24 478.6L1290.04 538.4M1230.24 467.9L1290.04 527.7M1230.24 457.2L1290.04 517M1230.24 446.5L1290.04 506.3M1230.24 435.8L1290.04 495.6M1230.24 425.1L1290.04 484.9M1230.24 414.4L1290.04 474.2M1230.24 403.7L1290.04 463.5M1230.24 393L1290.04 452.8M1230.24 382.3L1290.04 442.1M1230.24 371.6L1290.04 431.4M1230.24 360.9L1290.04 420.7M1230.24 350.2L1290.04 410M1230.24 339.5L1290.04 399.3"/>
<rect class="b" x="1231.24" y="394" width="57.8" height="415.1"/>
<rect x="1295.11" y="336.6" width="57.8" height="472.5" fill="#fff"/>
<path class="h" clip-path="url(#c16)" d="M1295.11 344.28H1352.91M1295.11 351.96H1352.91M1295.11 359.64H1352.91M1295.11 367.32H1352.91M1295.11 375H1352.91M1295.11 382.68H1352.91M1295.11 390.36H1352.91M1295.11 398.04H1352.91M1295.11 405.72H1352.91M1295.11 413.4H1352.91M1295.11 421.08H1352.91M1295.11 428.76H1352.91M1295.11 436.44H1352.91M1295.11 444.12H1352.91M1295.11 451.8H1352.91M1295.11 459.48H1352.91M1295.11 467.16H1352.91M1295.11 474.84H1352.91M1295.11 482.52H1352.91M1295.11 490.2H1352.91M1295.11 497.88H1352.91M1295.11 505.56H1352.91M1295.11 513.24H1352.91M1295.11 520.92H1352.91M1295.11 528.6H1352.91M1295.11 536.28H1352.91M1295.11 543.96H1352.91M1295.11 551.64H1352.91M1295.11 559.32H1352.91M1295.11 567H1352.91M1295.11 574.68H1352.91M1295.11 582.36H1352.91M1295.11 590.04H1352.91M1295.11 597.72H1352.91M1295.11 605.4H1352.91M1295.11 613.08H1352.91M1295.11 620.76H1352.91M1295.11 628.44H1352.91M1295.11 636.12H1352.91M1295.11 643.8H1352.91M1295.11 651.48H1352.91M1295.11 659.16H1352.91M1295.11 666.84H1352.91M1295.11 674.52H1352.91M1295.11 682.2H1352.91M1295.11 689.88H1352.91M1295.11 697.56H1352.91M1295.11 705.24H1352.91M1295.11 712.92H1352.91M1295.11 720.6H1352.91M1295.11 728.28H1352.91M1295.11 735.96H1352.91M1295.11 743.64H1352.91M1295.11 751.32H1352.91M1295.11 759H1352.91M1295.11 766.68H1352.91M1295.11 774.36H1352.91M1295.11 782.04H1352.91M1295.11 789.72H1352.91M1295.11 797.4H1352.91M1295.11 805.08H1352.91"/>
<rect class="b" x="1295.11" y="336.6" width="57.8" height="472.5"/>
<rect x="1414.2" y="727.3" width="57.8" height="81.8" fill="#fff"/>
<path class="h" clip-path="url(#c17)" d="M1413.2 729.4L1473 669.6M1413.2 740.1L1473 680.3M1413.2 750.8L1473 691M1413.2 761.5L1473 701.7M1413.2 772.2L1473 712.4M1413.2 782.9L1473 723.1M1413.2 793.6L1473 733.8M1413.2 804.3L1473 744.5M1413.2 815L1473 755.2M1413.2 825.7L1473 765.9M1413.2 836.4L1473 776.6M1413.2 847.1L1473 787.3M1413.2 857.8L1473 798"/>
<rect class="b" x="1414.2" y="727.3" width="57.8" height="81.8"/>
<rect x="1478.07" y="654.1" width="57.8" height="155" fill="#c0c0c0"/>
<path class="h" clip-path="url(#c18)" d="M1477.07 802.9L1536.87 862.7M1477.07 792.2L1536.87 852M1477.07 781.5L1536.87 841.3M1477.07 770.8L1536.87 830.6M1477.07 760.1L1536.87 819.9M1477.07 749.4L1536.87 809.2M1477.07 738.7L1536.87 798.5M1477.07 728L1536.87 787.8M1477.07 717.3L1536.87 777.1M1477.07 706.6L1536.87 766.4M1477.07 695.9L1536.87 755.7M1477.07 685.2L1536.87 745M1477.07 674.5L1536.87 734.3M1477.07 663.8L1536.87 723.6M1477.07 653.1L1536.87 712.9M1477.07 642.4L1536.87 702.2M1477.07 631.7L1536.87 691.5M1477.07 621L1536.87 680.8M1477.07 610.3L1536.87 670.1M1477.07 599.6L1536.87 659.4"/>
<rect class="b" x="1478.07" y="654.1" width="57.8" height="155"/>
<rect x="1541.94" y="706" width="57.8" height="103.1" fill="#fff"/>
<path class="h" clip-path="url(#c19)" d="M1540.94 708.1L1600.74 648.3M1540.94 718.8L1600.74 659M1540.94 729.5L1600.74 669.7M1540.94 740.2L1600.74 680.4M1540.94 750.9L1600.74 691.1M1540.94 761.6L1600.74 701.8M1540.94 772.3L1600.74 712.5M1540.94 783L1600.74 723.2M1540.94 793.7L1600.74 733.9M1540.94 804.4L1600.74 744.6M1540.94 815.1L1600.74 755.3M1540.94 825.8L1600.74 766M1540.94 836.5L1600.74 776.7M1540.94 847.2L1600.74 787.4M1540.94 857.9L1600.74 798.1M1540.94 801.3L1600.74 861.1M1540.94 790.6L1600.74 850.4M1540.94 779.9L1600.74 839.7M1540.94 769.2L1600.74 829M1540.94 758.5L1600.74 818.3M1540.94 747.8L1600.74 807.6M1540.94 737.1L1600.74 796.9M1540.94 726.4L1600.74 786.2M1540.94 715.7L1600.74 775.5M1540.94 705L1600.74 764.8M1540.94 694.3L1600.74 754.1M1540.94 683.6L1600.74 743.4M1540.94 672.9L1600.74 732.7M1540.94 662.2L1600.74 722M1540.94 651.5L1600.74 711.3"/>
<rect class="b" x="1541.94" y="706" width="57.8" height="103.1"/>
<rect x="1605.81" y="670.5" width="57.8" height="138.6" fill="#fff"/>
<path class="h" clip-path="url(#c20)" d="M1605.81 678.18H1663.61M1605.81 685.86H1663.61M1605.81 693.54H1663.61M1605.81 701.22H1663.61M1605.81 708.9H1663.61M1605.81 716.58H1663.61M1605.81 724.26H1663.61M1605.81 731.94H1663.61M1605.81 739.62H1663.61M1605.81 747.3H1663.61M1605.81 754.98H1663.61M1605.81 762.66H1663.61M1605.81 770.34H1663.61M1605.81 778.02H1663.61M1605.81 785.7H1663.61M1605.81 793.38H1663.61M1605.81 801.06H1663.61M1605.81 808.74H1663.61"/>
<rect class="b" x="1605.81" y="670.5" width="57.8" height="138.6"/>
<rect x="1724.9" y="426" width="57.8" height="383.1" fill="#fff"/>
<path class="h" clip-path="url(#c21)" d="M1723.9 428.1L1783.7 368.3M1723.9 438.8L1783.7 379M1723.9 449.5L1783.7 389.7M1723.9 460.2L1783.7 400.4M1723.9 470.9L1783.7 411.1M1723.9 481.6L1783.7 421.8M1723.9 492.3L1783.7 432.5M1723.9 503L1783.7 443.2M1723.9 513.7L1783.7 453.9M1723.9 524.4L1783.7 464.6M1723.9 535.1L1783.7 475.3M1723.9 545.8L1783.7 486M1723.9 556.5L1783.7 496.7M1723.9 567.2L1783.7 507.4M1723.9 577.9L1783.7 518.1M1723.9 588.6L1783.7 528.8M1723.9 599.3L1783.7 539.5M1723.9 610L1783.7 550.2M1723.9 620.7L1783.7 560.9M1723.9 631.4L1783.7 571.6M1723.9 642.1L1783.7 582.3M1723.9 652.8L1783.7 593M1723.9 663.5L1783.7 603.7M1723.9 674.2L1783.7 614.4M1723.9 684.9L1783.7 625.1M1723.9 695.6L1783.7 635.8M1723.9 706.3L1783.7 646.5M1723.9 717L1783.7 657.2M1723.9 727.7L1783.7 667.9M1723.9 738.4L1783.7 678.6M1723.9 749.1L1783.7 689.3M1723.9 759.8L1783.7 700M1723.9 770.5L1783.7 710.7M1723.9 781.2L1783.7 721.4M1723.9 791.9L1783.7 732.1M1723.9 802.6L1783.7 742.8M1723.9 813.3L1783.7 753.5M1723.9 824L1783.7 764.2M1723.9 834.7L1783.7 774.9M1723.9 845.4L1783.7 785.6M1723.9 856.1L1783.7 796.3M1723.9 866.8L1783.7 807"/>
<rect class="b" x="1724.9" y="426" width="57.8" height="383.1"/>
<rect x="1788.77" y="410.8" width="57.8" height="398.3" fill="#c0c0c0"/>
<path class="h" clip-path="url(#c22)" d="M1787.77 805.7L1847.57 865.5M1787.77 795L1847.57 854.8M1787.77 784.3L1847.57 844.1M1787.77 773.6L1847.57 833.4M1787.77 762.9L1847.57 822.7M1787.77 752.2L1847.57 812M1787.77 741.5L1847.57 801.3M1787.77 730.8L1847.57 790.6M1787.77 720.1L1847.57 779.9M1787.77 709.4L1847.57 769.2M1787.77 698.7L1847.57 758.5M1787.77 688L1847.57 747.8M1787.77 677.3L1847.57 737.1M1787.77 666.6L1847.57 726.4M1787.77 655.9L1847.57 715.7M1787.77 645.2L1847.57 705M1787.77 634.5L1847.57 694.3M1787.77 623.8L1847.57 683.6M1787.77 613.1L1847.57 672.9M1787.77 602.4L1847.57 662.2M1787.77 591.7L1847.57 651.5M1787.77 581L1847.57 640.8M1787.77 570.3L1847.57 630.1M1787.77 559.6L1847.57 619.4M1787.77 548.9L1847.57 608.7M1787.77 538.2L1847.57 598M1787.77 527.5L1847.57 587.3M1787.77 516.8L1847.57 576.6M1787.77 506.1L1847.57 565.9M1787.77 495.4L1847.57 555.2M1787.77 484.7L1847.57 544.5M1787.77 474L1847.57 533.8M1787.77 463.3L1847.57 523.1M1787.77 452.6L1847.57 512.4M1787.77 441.9L1847.57 501.7M1787.77 431.2L1847.57 491M1787.77 420.5L1847.57 480.3M1787.77 409.8L1847.57 469.6M1787.77 399.1L1847.57 458.9M1787.77 388.4L1847.57 448.2M1787.77 377.7L1847.57 437.5M1787.77 367L1847.57 426.8M1787.77 356.3L1847.57 416.1"/>
<rect class="b" x="1788.77" y="410.8" width="57.8" height="398.3"/>
<rect x="1852.64" y="477" width="57.8" height="332.1" fill="#fff"/>
<path class="h" clip-path="url(#c23)" d="M1851.64 479.1L1911.44 419.3M1851.64 489.8L1911.44 430M1851.64 500.5L1911.44 440.7M1851.64 511.2L1911.44 451.4M1851.64 521.9L1911.44 462.1M1851.64 532.6L1911.44 472.8M1851.64 543.3L1911.44 483.5M1851.64 554L1911.44 494.2M1851.64 564.7L1911.44 504.9M1851.64 575.4L1911.44 515.6M1851.64 586.1L1911.44 526.3M1851.64 596.8L1911.44 537M1851.64 607.5L1911.44 547.7M1851.64 618.2L1911.44 558.4M1851.64 628.9L1911.44 569.1M1851.64 639.6L1911.44 579.8M1851.64 650.3L1911.44 590.5M1851.64 661L1911.44 601.2M1851.64 671.7L1911.44 611.9M1851.64 682.4L1911.44 622.6M1851.64 693.1L1911.44 633.3M1851.64 703.8L1911.44 644M1851.64 714.5L1911.44 654.7M1851.64 725.2L1911.44 665.4M1851.64 735.9L1911.44 676.1M1851.64 746.6L1911.44 686.8M1851.64 757.3L1911.44 697.5M1851.64 768L1911.44 708.2M1851.64 778.7L1911.44 718.9M1851.64 789.4L1911.44 729.6M1851.64 800.1L1911.44 740.3M1851.64 810.8L1911.44 751M1851.64 821.5L1911.44 761.7M1851.64 832.2L1911.44 772.4M1851.64 842.9L1911.44 783.1M1851.64 853.6L1911.44 793.8M1851.64 864.3L1911.44 804.5M1851.64 807.7L1911.44 867.5M1851.64 797L1911.44 856.8M1851.64 786.3L1911.44 846.1M1851.64 775.6L1911.44 835.4M1851.64 764.9L1911.44 824.7M1851.64 754.2L1911.44 814M1851.64 743.5L1911.44 803.3M1851.64 732.8L1911.44 792.6M1851.64 722.1L1911.44 781.9M1851.64 711.4L1911.44 771.2M1851.64 700.7L1911.44 760.5M1851.64 690L1911.44 749.8M1851.64 679.3L1911.44 739.1M1851.64 668.6L1911.44 728.4M1851.64 657.9L1911.44 717.7M1851.64 647.2L1911.44 707M1851.64 636.5L1911.44 696.3M1851.64 625.8L1911.44 685.6M1851.64 615.1L1911.44 674.9M1851.64 604.4L1911.44 664.2M1851.64 593.7L1911.44 653.5M1851.64 583L1911.44 642.8M1851.64 572.3L1911.44 632.1M1851.64 561.6L1911.44 621.4M1851.64 550.9L1911.44 610.7M1851.64 540.2L1911.44 600M1851.64 529.5L1911.44 589.3M1851.64 518.8L1911.44 578.6M1851.64 508.1L1911.44 567.9M1851.64 497.4L1911.44 557.2M1851.64 486.7L1911.44 546.5M1851.64 476L1911.44 535.8M1851.64 465.3L1911.44 525.1M1851.64 454.6L1911.44 514.4M1851.64 443.9L1911.44 503.7M1851.64 433.2L1911.44 493M1851.64 422.5L1911.44 482.3"/>
<rect class="b" x="1852.64" y="477" width="57.8" height="332.1"/>
<rect x="1916.51" y="463.8" width="57.8" height="345.3" fill="#fff"/>
<path class="h" clip-path="url(#c24)" d="M1916.51 471.48H1974.31M1916.51 479.16H1974.31M1916.51 486.84H1974.31M1916.51 494.52H1974.31M1916.51 502.2H1974.31M1916.51 509.88H1974.31M1916.51 517.56H1974.31M1916.51 525.24H1974.31M1916.51 532.92H1974.31M1916.51 540.6H1974.31M1916.51 548.28H1974.31M1916.51 555.96H1974.31M1916.51 563.64H1974.31M1916.51 571.32H1974.31M1916.51 579H1974.31M1916.51 586.68H1974.31M1916.51 594.36H1974.31M1916.51 602.04H1974.31M1916.51 609.72H1974.31M1916.51 617.4H1974.31M1916.51 625.08H1974.31M1916.51 632.76H1974.31M1916.51 640.44H1974.31M1916.51 648.12H1974.31M1916.51 655.8H1974.31M1916.51 663.48H1974.31M1916.51 671.16H1974.31M1916.51 678.84H1974.31M1916.51 686.52H1974.31M1916.51 694.2H1974.31M1916.51 701.88H1974.31M1916.51 709.56H1974.31M1916.51 717.24H1974.31M1916.51 724.92H1974.31M1916.51 732.6H1974.31M1916.51 740.28H1974.31M1916.51 747.96H1974.31M1916.51 755.64H1974.31M1916.51 763.32H1974.31M1916.51 771H1974.31M1916.51 778.68H1974.31M1916.51 786.36H1974.31M1916.51 794.04H1974.31M1916.51 801.72H1974.31"/>
<rect class="b" x="1916.51" y="463.8" width="57.8" height="345.3"/>
<path class="e" d="M192.15 228.2h16.5M192.15 253.7h16.5M200.4 228.2V253.7M256.02 187.8h16.5M256.02 202.9h16.5M264.27 187.8V202.9M319.89 231.6h16.5M319.89 335.7h16.5M328.14 231.6V335.7M383.76 396.7h16.5M383.76 508.5h16.5M392.01 396.7V508.5M502.85 606.8h16.5M502.85 736.5h16.5M511.1 606.8V736.5M566.72 648.9h16.5M566.72 751.2h16.5M574.97 648.9V751.2M630.59 735.3h16.5M630.59 786.9h16.5M638.84 735.3V786.9M694.46 611.4h16.5M694.46 625.9h16.5M702.71 611.4V625.9M813.55 384.6h16.5M813.55 405.7h16.5M821.8 384.6V405.7M877.42 405.7h16.5M877.42 445.2h16.5M885.67 405.7V445.2M941.29 403.5h16.5M941.29 513h16.5M949.54 403.5V513M1005.16 388.8h16.5M1005.16 519.1h16.5M1013.41 388.8V519.1M1124.25 224.7h16.5M1124.25 244.8h16.5M1132.5 224.7V244.8M1188.12 176.8h16.5M1188.12 218.5h16.5M1196.37 176.8V218.5M1251.99 339.5h16.5M1251.99 447.7h16.5M1260.24 339.5V447.7M1315.86 267.5h16.5M1315.86 404.8h16.5M1324.11 267.5V404.8M1434.95 708h16.5M1434.95 746.3h16.5M1443.2 708V746.3M1498.82 583.8h16.5M1498.82 723.8h16.5M1507.07 583.8V723.8M1562.69 695.9h16.5M1562.69 716.3h16.5M1570.94 695.9V716.3M1626.56 655h16.5M1626.56 686.1h16.5M1634.81 655V686.1M1745.65 415.5h16.5M1745.65 435.5h16.5M1753.9 415.5V435.5M1809.52 405.7h16.5M1809.52 416.2h16.5M1817.77 405.7V416.2M1873.39 461.5h16.5M1873.39 492.5h16.5M1881.64 461.5V492.5M1937.26 414.1h16.5M1937.26 512.7h16.5M1945.51 414.1V512.7"/>
<rect x="140.8" y="21.2" width="1864.6" height="787.9" fill="none" stroke="#000" stroke-width="3.5"/>
<text class="lt" x="199.9" y="197.4">b</text>
<text class="lt" x="259.6" y="156.8">a</text>
<text class="lt" x="321" y="218.8">c</text>
<text class="lt" x="384.3" y="366.6">d</text>
<text class="lt" x="510.35" y="591.5">g</text>
<text class="lt" x="568.3" y="631.6">h</text>
<text class="lt" x="625.1" y="694.6">i</text>
<text class="lt" x="687.65" y="579.8">f</text>
<text class="lt" x="817.45" y="354.3">d</text>
<text class="lt" x="878.75" y="363.2">d</text>
<text class="lt" x="942.8" y="385.4">e</text>
<text class="lt" x="1001" y="376.2">e</text>
<text class="lt" x="1131.3" y="193.8">b</text>
<text class="lt" x="1191.35" y="147.9">a</text>
<text class="lt" x="1252.25" y="320.2">d</text>
<text class="lt" x="1318.5" y="246.6">d</text>
<text class="lt" x="1440.75" y="678.8">h</text>
<text class="lt" x="1503.25" y="571.4">g</text>
<text class="lt" x="1564.7" y="647.1">h</text>
<text class="lt" x="1619.35" y="623.1">g</text>
<text class="lt" x="1748.45" y="385.6">d</text>
<text class="lt" x="1810.15" y="372.6">d</text>
<text class="lt" x="1873.2" y="415.8">e</text>
<text class="lt" x="1938.15" y="410.4">e</text>
<text class="tk" x="123.3" y="819.3">0.00</text>
<text class="tk" x="123.3" y="661.72">0.05</text>
<text class="tk" x="123.3" y="504.14">0.10</text>
<text class="tk" x="123.3" y="346.56">0.15</text>
<text class="tk" x="123.3" y="188.98">0.20</text>
<text class="tk" x="123.3" y="31.4">0.25</text>
<text class="xl" text-anchor="middle" x="284.6" y="850.5">Blueberry</text>
<text class="xl" text-anchor="middle" x="296.15" y="888.8">L. plantarum 67</text>
<text class="xl" text-anchor="middle" x="295.75" y="927.6">L. casei M 54</text>
<text class="xl" text-anchor="middle" x="595.85" y="850.5">Whey protein</text>
<text class="xl" text-anchor="middle" x="606.8" y="888.8">L. plantarum 67</text>
<text class="xl" text-anchor="middle" x="606.15" y="927.6">L. casei M 54</text>
<text class="xl" text-anchor="middle" letter-spacing="0.14" x="906.3" y="850.5">Blueberry+whey protein</text>
<text class="xl" text-anchor="middle" x="917.15" y="888.8">L. plantarum 67</text>
<text class="xl" text-anchor="middle" x="917.1" y="927.6">L. casei M 54</text>
<text class="xl" text-anchor="middle" x="1228.55" y="850.5">Blueberry</text>
<text class="xl" text-anchor="middle" x="1227.75" y="888.8">L. bulgaricus134</text>
<text class="xl" text-anchor="middle" x="1228.4" y="927.6">S. thermophilus 99</text>
<text class="xl" text-anchor="middle" x="1536.05" y="850.5">Whey protein</text>
<text class="xl" text-anchor="middle" x="1538.6" y="888.8">L. bulgaricus134</text>
<text class="xl" text-anchor="middle" x="1538.9" y="927.6">S. thermophilus 99</text>
<text class="xl" text-anchor="middle" letter-spacing="0.14" x="1850" y="850.5">Blueberry+whey protein</text>
<text class="xl" text-anchor="middle" x="1849.5" y="888.8">L. bulgaricus134</text>
<text class="xl" text-anchor="middle" x="1849.65" y="927.6">S. thermophilus 99</text>
<text class="yt" transform="translate(44.3 704) rotate(-90)"><tspan x="0" y="0">The activity of AKP</tspan><tspan x="364.7" y="-2" font-size="48">（</tspan><tspan x="424.3" y="0">mg/mL</tspan><tspan x="569" y="-2" font-size="48">）</tspan></text>
<rect x="1808.5" y="24.2" width="199.1" height="214.9" fill="#fff" stroke="#000" stroke-width="1.5"/>
<rect x="1817.1" y="30.2" width="93.7" height="46.2" fill="#fff"/>
<path class="h" clip-path="url(#l0)" d="M1816.1 37L1911.8 -58.7M1816.1 47.7L1911.8 -48M1816.1 58.4L1911.8 -37.3M1816.1 69.1L1911.8 -26.6M1816.1 79.8L1911.8 -15.9M1816.1 90.5L1911.8 -5.2M1816.1 101.2L1911.8 5.5M1816.1 111.9L1911.8 16.2M1816.1 122.6L1911.8 26.9M1816.1 133.3L1911.8 37.6M1816.1 144L1911.8 48.3M1816.1 154.7L1911.8 59M1816.1 165.4L1911.8 69.7"/>
<rect class="b" x="1817.1" y="30.2" width="93.7" height="46.2"/>
<text class="lg" x="1922.5" y="68">0 d</text>
<rect x="1817.1" y="82.8" width="93.7" height="46.2" fill="#c0c0c0"/>
<path class="h" clip-path="url(#l1)" d="M1816.1 123.6L1911.8 219.3M1816.1 112.9L1911.8 208.6M1816.1 102.2L1911.8 197.9M1816.1 91.5L1911.8 187.2M1816.1 80.8L1911.8 176.5M1816.1 70.1L1911.8 165.8M1816.1 59.4L1911.8 155.1M1816.1 48.7L1911.8 144.4M1816.1 38L1911.8 133.7M1816.1 27.3L1911.8 123M1816.1 16.6L1911.8 112.3M1816.1 5.9L1911.8 101.6M1816.1 -4.8L1911.8 90.9"/>
<rect class="b" x="1817.1" y="82.8" width="93.7" height="46.2"/>
<text class="lg" x="1922.5" y="120.4">4 d</text>
<rect x="1817.1" y="135.4" width="93.7" height="46.2" fill="#fff"/>
<path class="h" clip-path="url(#l2)" d="M1816.1 142.2L1911.8 46.5M1816.1 152.9L1911.8 57.2M1816.1 163.6L1911.8 67.9M1816.1 174.3L1911.8 78.6M1816.1 185L1911.8 89.3M1816.1 195.7L1911.8 100M1816.1 206.4L1911.8 110.7M1816.1 217.1L1911.8 121.4M1816.1 227.8L1911.8 132.1M1816.1 238.5L1911.8 142.8M1816.1 249.2L1911.8 153.5M1816.1 259.9L1911.8 164.2M1816.1 270.6L1911.8 174.9M1816.1 176.2L1911.8 271.9M1816.1 165.5L1911.8 261.2M1816.1 154.8L1911.8 250.5M1816.1 144.1L1911.8 239.8M1816.1 133.4L1911.8 229.1M1816.1 122.7L1911.8 218.4M1816.1 112L1911.8 207.7M1816.1 101.3L1911.8 197M1816.1 90.6L1911.8 186.3M1816.1 79.9L1911.8 175.6M1816.1 69.2L1911.8 164.9M1816.1 58.5L1911.8 154.2M1816.1 47.8L1911.8 143.5"/>
<rect class="b" x="1817.1" y="135.4" width="93.7" height="46.2"/>
<text class="lg" x="1922.5" y="172.8">8 d</text>
<rect x="1817.1" y="188" width="93.7" height="46.2" fill="#fff"/>
<path class="h" clip-path="url(#l3)" d="M1817.1 195.68H1910.8M1817.1 203.36H1910.8M1817.1 211.04H1910.8M1817.1 218.72H1910.8M1817.1 226.4H1910.8M1817.1 234.08H1910.8"/>
<rect class="b" x="1817.1" y="188" width="93.7" height="46.2"/>
<text class="lg" x="1923.2" y="225.2">12 d</text>
</svg></body></html>
